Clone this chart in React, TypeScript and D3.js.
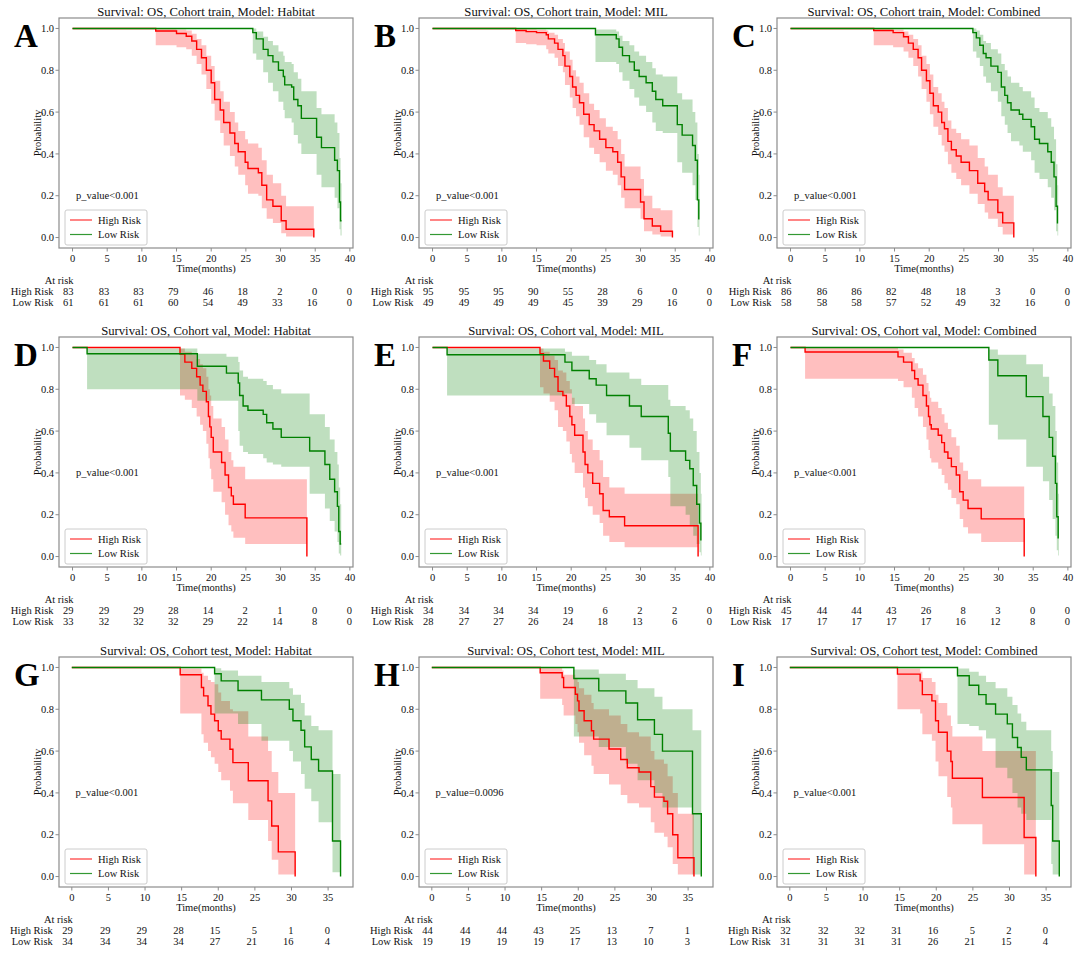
import React from "react";
import * as d3 from "d3";

// [time, survival, ci lower, ci upper]; each row holds until the next one
type Step = [number, number, number, number];

const timeTicksLong = [0, 5, 10, 15, 20, 25, 30, 35, 40];
const timeTicksShort = [0, 5, 10, 15, 20, 25, 30, 35];
const probTicks = [0, 0.2, 0.4, 0.6, 0.8, 1.0];

// ---------- train ----------
const trainHabitatHigh: Step[] = [
  [0, 1, 1, 1], [12.0, 0.988, 0.92, 1.0], [15.0, 0.976, 0.91, 0.995], [16.4, 0.963, 0.9, 0.99],
  [17.2, 0.94, 0.87, 0.975], [17.9, 0.9, 0.83, 0.95], [18.6, 0.86, 0.78, 0.92], [19.3, 0.8, 0.71, 0.87],
  [20.0, 0.74, 0.64, 0.82], [20.5, 0.66, 0.56, 0.75], [21.3, 0.61, 0.5, 0.7], [21.8, 0.55, 0.44, 0.65],
  [22.7, 0.5, 0.39, 0.6], [23.4, 0.45, 0.34, 0.55], [23.9, 0.41, 0.3, 0.51], [24.9, 0.36, 0.25, 0.47],
  [25.3, 0.33, 0.21, 0.45], [26.8, 0.31, 0.2, 0.43], [27.3, 0.25, 0.14, 0.37], [28.0, 0.18, 0.09, 0.3],
  [28.9, 0.15, 0.07, 0.26], [30.1, 0.08, 0.02, 0.2], [30.8, 0.04, 0.005, 0.15], [34.8, 0, 0, 0],
];
const trainHabitatLow: Step[] = [
  [0, 1, 1, 1], [26.0, 0.98, 0.88, 1.0], [26.5, 0.95, 0.85, 0.985], [27.5, 0.9, 0.79, 0.96],
  [28.2, 0.87, 0.74, 0.94], [28.9, 0.84, 0.7, 0.92], [29.7, 0.8, 0.65, 0.89], [30.4, 0.77, 0.61, 0.87],
  [30.6, 0.73, 0.57, 0.84], [31.6, 0.72, 0.55, 0.83], [31.9, 0.66, 0.49, 0.79], [32.5, 0.63, 0.45, 0.76],
  [33.0, 0.57, 0.4, 0.7], [35.2, 0.48, 0.3, 0.62], [35.9, 0.43, 0.24, 0.59], [37.8, 0.37, 0.19, 0.55],
  [38.2, 0.32, 0.14, 0.5], [38.5, 0.17, 0.04, 0.38], [38.65, 0.08, 0.01, 0.26], [38.8, 0.08, 0.01, 0.26],
];
const trainMilHigh: Step[] = [
  [0, 1, 1, 1], [12.0, 0.99, 0.93, 1.0], [13.5, 0.985, 0.925, 0.998], [15.0, 0.98, 0.92, 0.995],
  [16.4, 0.97, 0.9, 0.99], [16.7, 0.95, 0.88, 0.98], [17.6, 0.93, 0.86, 0.97], [18.1, 0.9, 0.82, 0.95],
  [18.8, 0.87, 0.79, 0.93], [19.1, 0.82, 0.73, 0.89], [19.8, 0.77, 0.67, 0.85], [20.2, 0.72, 0.62, 0.8],
  [20.7, 0.68, 0.58, 0.77], [21.2, 0.645, 0.54, 0.74], [21.8, 0.59, 0.48, 0.69], [22.6, 0.54, 0.43, 0.64],
  [23.3, 0.51, 0.4, 0.61], [24.1, 0.47, 0.36, 0.57], [25.0, 0.43, 0.32, 0.53], [26.0, 0.41, 0.3, 0.51],
  [26.7, 0.36, 0.25, 0.47], [27.2, 0.29, 0.19, 0.4], [27.7, 0.23, 0.14, 0.34], [30.0, 0.17, 0.09, 0.28],
  [30.5, 0.09, 0.03, 0.2], [31.7, 0.055, 0.015, 0.14], [32.9, 0.03, 0.005, 0.13], [34.6, 0, 0, 0],
];
const trainMilLow: Step[] = [
  [0, 1, 1, 1], [23.5, 0.97, 0.84, 0.995], [26.5, 0.95, 0.83, 0.985], [26.9, 0.91, 0.79, 0.965],
  [27.4, 0.87, 0.75, 0.94], [28.4, 0.84, 0.71, 0.92], [29.1, 0.8, 0.67, 0.89], [29.8, 0.77, 0.63, 0.87],
  [30.8, 0.74, 0.6, 0.84], [31.7, 0.7, 0.55, 0.81], [32.2, 0.66, 0.51, 0.78], [33.2, 0.63, 0.5, 0.77],
  [35.3, 0.54, 0.36, 0.69], [36.0, 0.49, 0.31, 0.66], [37.5, 0.44, 0.25, 0.6], [37.9, 0.37, 0.18, 0.55],
  [38.2, 0.18, 0.05, 0.4], [38.4, 0.09, 0.01, 0.3], [38.5, 0.09, 0.01, 0.3],
];
const trainCombinedHigh: Step[] = [
  [0, 1, 1, 1], [12.0, 0.99, 0.92, 1.0], [14.8, 0.98, 0.91, 0.995], [16.3, 0.96, 0.89, 0.985],
  [17.0, 0.93, 0.86, 0.97], [17.7, 0.9, 0.82, 0.95], [18.4, 0.86, 0.77, 0.92], [18.9, 0.8, 0.71, 0.87],
  [19.6, 0.75, 0.65, 0.83], [20.1, 0.69, 0.59, 0.78], [20.6, 0.63, 0.53, 0.72], [21.3, 0.6, 0.49, 0.69],
  [21.8, 0.55, 0.44, 0.65], [22.2, 0.52, 0.41, 0.62], [22.7, 0.46, 0.35, 0.56], [23.2, 0.42, 0.31, 0.52],
  [23.9, 0.39, 0.28, 0.5], [24.6, 0.36, 0.25, 0.47], [25.8, 0.32, 0.21, 0.44], [27.0, 0.26, 0.16, 0.38],
  [28.0, 0.22, 0.12, 0.34], [28.5, 0.18, 0.09, 0.3], [29.9, 0.12, 0.05, 0.24], [30.6, 0.07, 0.015, 0.2],
  [32.2, 0, 0, 0],
];
const trainCombinedLow: Step[] = [
  [0, 1, 1, 1], [26.3, 0.98, 0.89, 1.0], [26.8, 0.955, 0.86, 0.99], [27.3, 0.92, 0.82, 0.97],
  [27.8, 0.88, 0.77, 0.94], [28.2, 0.86, 0.74, 0.93], [28.9, 0.82, 0.7, 0.9], [29.9, 0.79, 0.65, 0.88],
  [30.4, 0.72, 0.58, 0.83], [30.9, 0.68, 0.54, 0.8], [31.3, 0.645, 0.5, 0.77], [31.8, 0.61, 0.46, 0.74],
  [33.0, 0.59, 0.44, 0.72], [33.5, 0.565, 0.41, 0.7], [34.7, 0.53, 0.37, 0.67], [35.2, 0.47, 0.31, 0.62],
  [35.9, 0.45, 0.28, 0.6], [37.1, 0.41, 0.24, 0.57], [37.6, 0.36, 0.19, 0.53], [38.0, 0.29, 0.13, 0.47],
  [38.3, 0.15, 0.03, 0.35], [38.5, 0.07, 0.01, 0.25], [38.6, 0.07, 0.01, 0.25],
];

// ---------- val ----------
const valHabitatHigh: Step[] = [
  [0, 1, 1, 1], [15.5, 0.968, 0.77, 0.995], [16.2, 0.93, 0.75, 0.98], [17.2, 0.9, 0.71, 0.965],
  [17.9, 0.86, 0.67, 0.945], [18.4, 0.82, 0.63, 0.92], [18.8, 0.79, 0.6, 0.9], [19.3, 0.74, 0.54, 0.86],
  [19.6, 0.67, 0.47, 0.8], [19.8, 0.62, 0.42, 0.77], [20.0, 0.57, 0.37, 0.72], [20.3, 0.5, 0.31, 0.66],
  [21.5, 0.45, 0.26, 0.62], [22.0, 0.39, 0.2, 0.56], [22.5, 0.33, 0.15, 0.5], [22.9, 0.29, 0.12, 0.46],
  [23.2, 0.25, 0.09, 0.43], [24.9, 0.185, 0.06, 0.37], [33.8, 0, 0, 0],
];
const valHabitatLow: Step[] = [
  [0, 1, 1, 1], [2.1, 0.97, 0.8, 0.995], [18.0, 0.91, 0.745, 0.97], [22.2, 0.877, 0.745, 0.955],
  [23.9, 0.83, 0.6, 0.93], [24.1, 0.77, 0.53, 0.89], [24.6, 0.72, 0.5, 0.86], [25.3, 0.7, 0.49, 0.85],
  [27.5, 0.68, 0.47, 0.84], [28.0, 0.64, 0.45, 0.82], [28.9, 0.61, 0.44, 0.8], [30.1, 0.57, 0.43, 0.78],
  [34.2, 0.505, 0.3, 0.68], [36.4, 0.44, 0.23, 0.62], [37.1, 0.37, 0.17, 0.56], [37.8, 0.31, 0.12, 0.5],
  [38.2, 0.24, 0.07, 0.44], [38.4, 0.12, 0.015, 0.33], [38.6, 0.06, 0.005, 0.25], [38.75, 0.06, 0.005, 0.25],
];
const valMilHigh: Step[] = [
  [0, 1, 1, 1], [15.5, 0.97, 0.81, 0.995], [16.0, 0.935, 0.78, 0.98], [16.9, 0.9, 0.74, 0.96],
  [17.6, 0.86, 0.7, 0.94], [18.1, 0.79, 0.62, 0.89], [18.8, 0.77, 0.6, 0.88], [19.3, 0.72, 0.55, 0.84],
  [19.8, 0.67, 0.49, 0.8], [20.1, 0.63, 0.45, 0.76], [20.5, 0.58, 0.4, 0.72], [21.7, 0.5, 0.33, 0.66],
  [22.0, 0.44, 0.28, 0.6], [22.4, 0.4, 0.24, 0.56], [23.1, 0.35, 0.2, 0.51], [24.1, 0.3, 0.16, 0.46],
  [24.6, 0.22, 0.1, 0.38], [25.5, 0.19, 0.07, 0.33], [27.7, 0.147, 0.045, 0.3], [38.3, 0, 0, 0],
];
const valMilLow: Step[] = [
  [0, 1, 1, 1], [2.1, 0.965, 0.77, 0.995], [19.1, 0.93, 0.78, 0.98], [20.1, 0.89, 0.73, 0.96],
  [22.6, 0.85, 0.68, 0.94], [23.6, 0.82, 0.64, 0.92], [25.1, 0.77, 0.58, 0.88], [28.4, 0.72, 0.52, 0.85],
  [30.1, 0.67, 0.46, 0.82], [34.0, 0.59, 0.38, 0.75], [34.3, 0.505, 0.24, 0.72], [36.5, 0.46, 0.2, 0.7],
  [37.1, 0.42, 0.15, 0.66], [37.6, 0.34, 0.1, 0.6], [38.1, 0.25, 0.06, 0.5], [38.5, 0.16, 0.02, 0.4],
  [38.7, 0.08, 0.005, 0.3], [38.8, 0.08, 0.005, 0.3],
];
const valCombinedHigh: Step[] = [
  [0, 1, 1, 1], [2.1, 0.978, 0.85, 0.997], [15.5, 0.955, 0.84, 0.99], [16.3, 0.93, 0.81, 0.975],
  [17.5, 0.89, 0.76, 0.95], [17.9, 0.85, 0.71, 0.925], [18.4, 0.82, 0.67, 0.9], [19.1, 0.77, 0.62, 0.87],
  [19.6, 0.72, 0.56, 0.83], [19.9, 0.67, 0.51, 0.79], [20.1, 0.63, 0.47, 0.76], [20.3, 0.61, 0.45, 0.74],
  [21.3, 0.58, 0.42, 0.71], [21.8, 0.545, 0.39, 0.68], [22.2, 0.5, 0.35, 0.64], [22.7, 0.47, 0.32, 0.61],
  [23.2, 0.43, 0.28, 0.57], [23.9, 0.39, 0.25, 0.53], [24.4, 0.31, 0.18, 0.45], [24.9, 0.27, 0.14, 0.41],
  [25.6, 0.23, 0.11, 0.37], [27.5, 0.18, 0.07, 0.335], [33.7, 0, 0, 0],
];
const valCombinedLow: Step[] = [
  [0, 1, 1, 1], [28.6, 0.94, 0.63, 0.99], [29.9, 0.865, 0.56, 0.965], [34.0, 0.765, 0.43, 0.92],
  [36.4, 0.67, 0.36, 0.86], [37.3, 0.57, 0.27, 0.78], [37.8, 0.48, 0.18, 0.72], [38.2, 0.35, 0.1, 0.6],
  [38.4, 0.19, 0.03, 0.45], [38.6, 0.09, 0.005, 0.3], [38.7, 0.09, 0.005, 0.3],
];

// ---------- test ----------
const testHabitatHigh: Step[] = [
  [0, 1, 1, 1], [14.8, 0.965, 0.78, 0.995], [17.7, 0.904, 0.68, 0.975], [18.0, 0.864, 0.64, 0.96],
  [18.6, 0.817, 0.6, 0.94], [19.0, 0.777, 0.57, 0.93], [19.5, 0.745, 0.54, 0.92], [20.0, 0.697, 0.5, 0.88],
  [20.4, 0.657, 0.46, 0.84], [21.6, 0.609, 0.41, 0.8], [22.0, 0.545, 0.35, 0.79], [24.1, 0.458, 0.27, 0.67],
  [26.8, 0.362, 0.17, 0.6], [27.3, 0.242, 0.08, 0.5], [28.2, 0.118, 0.01, 0.4], [30.5, 0, 0, 0],
];
const testHabitatLow: Step[] = [
  [0, 1, 1, 1], [19.5, 0.97, 0.78, 0.996], [20.4, 0.936, 0.78, 0.985], [22.7, 0.89, 0.73, 0.96],
  [25.9, 0.845, 0.65, 0.93], [29.7, 0.8, 0.6, 0.9], [30.2, 0.745, 0.55, 0.87], [31.3, 0.7, 0.49, 0.83],
  [31.8, 0.62, 0.42, 0.77], [32.7, 0.56, 0.36, 0.72], [33.7, 0.505, 0.26, 0.7], [35.6, 0.17, 0.02, 0.49],
  [36.7, 0, 0, 0],
];
const testMilHigh: Step[] = [
  [0, 1, 1, 1], [14.8, 0.975, 0.85, 0.997], [17.8, 0.952, 0.82, 0.985], [18.0, 0.904, 0.77, 0.965],
  [19.6, 0.872, 0.73, 0.95], [19.9, 0.84, 0.69, 0.93], [20.1, 0.793, 0.64, 0.9], [20.8, 0.745, 0.58, 0.87],
  [21.8, 0.697, 0.53, 0.83], [22.1, 0.657, 0.49, 0.8], [24.2, 0.61, 0.44, 0.77], [25.8, 0.56, 0.39, 0.73],
  [26.7, 0.52, 0.35, 0.69], [28.3, 0.5, 0.33, 0.67], [29.9, 0.43, 0.26, 0.6], [30.4, 0.38, 0.21, 0.56],
  [31.7, 0.36, 0.19, 0.54], [32.2, 0.3, 0.14, 0.48], [32.9, 0.2, 0.06, 0.4], [33.6, 0.09, 0.01, 0.3],
  [35.8, 0, 0, 0],
];
const testMilLow: Step[] = [
  [0, 1, 1, 1], [19.4, 0.947, 0.67, 0.99], [22.8, 0.888, 0.62, 0.97], [26.5, 0.83, 0.54, 0.94],
  [28.1, 0.75, 0.46, 0.9], [30.4, 0.68, 0.4, 0.86], [31.5, 0.6, 0.33, 0.8], [35.6, 0.3, 0.01, 0.7],
  [36.8, 0, 0, 0],
];
const testCombinedHigh: Step[] = [
  [0, 1, 1, 1], [14.7, 0.968, 0.8, 0.995], [17.8, 0.936, 0.78, 0.98], [18.1, 0.87, 0.68, 0.95],
  [19.4, 0.84, 0.65, 0.93], [19.9, 0.745, 0.55, 0.87], [20.3, 0.69, 0.48, 0.83], [21.5, 0.6, 0.38, 0.77],
  [22.0, 0.55, 0.33, 0.72], [22.2, 0.47, 0.25, 0.67], [26.3, 0.378, 0.155, 0.6], [32.0, 0.187, 0.01, 0.6],
  [33.6, 0, 0, 0],
];
const testCombinedLow: Step[] = [
  [0, 1, 1, 1], [22.9, 0.96, 0.73, 0.995], [24.5, 0.915, 0.72, 0.98], [25.8, 0.87, 0.7, 0.96],
  [26.8, 0.825, 0.66, 0.93], [28.1, 0.777, 0.52, 0.9], [29.7, 0.73, 0.47, 0.86], [30.4, 0.665, 0.4, 0.82],
  [31.1, 0.617, 0.33, 0.78], [31.6, 0.57, 0.3, 0.74], [32.3, 0.51, 0.27, 0.7], [35.7, 0.34, 0.06, 0.6],
  [35.9, 0.17, 0.01, 0.5], [36.8, 0, 0, 0],
];

// ---------- numbers at risk ----------
const riskTrainHabitatHigh = [83, 83, 83, 79, 46, 18, 2, 0, 0];
const riskTrainHabitatLow = [61, 61, 61, 60, 54, 49, 33, 16, 0];
const riskTrainMilHigh = [95, 95, 95, 90, 55, 28, 6, 0, 0];
const riskTrainMilLow = [49, 49, 49, 49, 45, 39, 29, 16, 0];
const riskTrainCombinedHigh = [86, 86, 86, 82, 48, 18, 3, 0, 0];
const riskTrainCombinedLow = [58, 58, 58, 57, 52, 49, 32, 16, 0];
const riskValHabitatHigh = [29, 29, 29, 28, 14, 2, 1, 0, 0];
const riskValHabitatLow = [33, 32, 32, 32, 29, 22, 14, 8, 0];
const riskValMilHigh = [34, 34, 34, 34, 19, 6, 2, 2, 0];
const riskValMilLow = [28, 27, 27, 26, 24, 18, 13, 6, 0];
const riskValCombinedHigh = [45, 44, 44, 43, 26, 8, 3, 0, 0];
const riskValCombinedLow = [17, 17, 17, 17, 17, 16, 12, 8, 0];
const riskTestHabitatHigh = [29, 29, 29, 28, 15, 5, 1, 0];
const riskTestHabitatLow = [34, 34, 34, 34, 27, 21, 16, 4];
const riskTestMilHigh = [44, 44, 44, 43, 25, 13, 7, 1];
const riskTestMilLow = [19, 19, 19, 19, 17, 13, 10, 3];
const riskTestCombinedHigh = [32, 32, 32, 31, 16, 5, 2, 0];
const riskTestCombinedLow = [31, 31, 31, 31, 26, 21, 15, 4];

const cohorts = ["train", "val", "test"];
const models = ["Habitat", "MIL", "Combined"];
const letters = ["A", "B", "C", "D", "E", "F", "G", "H", "I"];
const pValues = [
  "p_value<0.001", "p_value<0.001", "p_value<0.001",
  "p_value<0.001", "p_value<0.001", "p_value<0.001",
  "p_value<0.001", "p_value=0.0096", "p_value<0.001",
];
const highCurves = [
  trainHabitatHigh, trainMilHigh, trainCombinedHigh,
  valHabitatHigh, valMilHigh, valCombinedHigh,
  testHabitatHigh, testMilHigh, testCombinedHigh,
];
const lowCurves = [
  trainHabitatLow, trainMilLow, trainCombinedLow,
  valHabitatLow, valMilLow, valCombinedLow,
  testHabitatLow, testMilLow, testCombinedLow,
];
const highRisk = [
  riskTrainHabitatHigh, riskTrainMilHigh, riskTrainCombinedHigh,
  riskValHabitatHigh, riskValMilHigh, riskValCombinedHigh,
  riskTestHabitatHigh, riskTestMilHigh, riskTestCombinedHigh,
];
const lowRisk = [
  riskTrainHabitatLow, riskTrainMilLow, riskTrainCombinedLow,
  riskValHabitatLow, riskValMilLow, riskValCombinedLow,
  riskTestHabitatLow, riskTestMilLow, riskTestCombinedLow,
];

// layout
const W = 1080;
const H = 954;
const colLeft = [59, 419, 777];
const rowTop = [18, 337, 657];
const boxW = 294;
const boxH = 230;
const FONT = "'Liberation Serif', 'Times New Roman', serif";
const HIGH = "#ff0000";
const LOW = "#008000";
const INK = "#111";
const SPINE = "#8c8c8c";

interface PanelProps {
  idx: number;
}

const Panel: React.FC<PanelProps> = ({ idx }) => {
  const row = Math.floor(idx / 3);
  const col = idx % 3;
  const left = colLeft[col];
  const top = rowTop[row];
  const ticks = row === 2 ? timeTicksShort : timeTicksLong;
  const xDomain = row === 2 ? [-1.75, 38.4] : [-1.95, 40.45];

  const x = d3.scaleLinear().domain(xDomain).range([0, boxW]);
  const y = d3.scaleLinear().domain([-0.05, 1.05]).range([boxH, 0]);

  const band = d3
    .area<Step>()
    .x((d) => x(d[0]))
    .y0((d) => y(d[2]))
    .y1((d) => y(d[3]))
    .curve(d3.curveStepAfter);
  const line = d3
    .line<Step>()
    .x((d) => x(d[0]))
    .y((d) => y(d[1]))
    .curve(d3.curveStepAfter);

  const title = `Survival: OS, Cohort ${cohorts[row]}, Model: ${models[col]}`;
  const hi = highRisk[idx];
  const lo = lowRisk[idx];
  const legX = 6;
  const legY = 192;

  return (
    <g transform={`translate(${left},${top})`} fontFamily={FONT}>
      <text x={-45} y={29} fontSize={33} fontWeight="bold" fill="#000">
        {letters[idx]}
      </text>
      <text x={boxW / 2} y={-2} fontSize={12.7} textAnchor="middle" fill={INK}>
        {title}
      </text>

      <path d={band(highCurves[idx]) ?? ""} fill={HIGH} fillOpacity={0.25} />
      <path d={band(lowCurves[idx]) ?? ""} fill={LOW} fillOpacity={0.25} />
      <path d={line(highCurves[idx]) ?? ""} fill="none" stroke={HIGH} strokeWidth={1.4} />
      <path d={line(lowCurves[idx]) ?? ""} fill="none" stroke={LOW} strokeWidth={1.4} />

      <rect x={0} y={0} width={boxW} height={boxH} fill="none" stroke={SPINE} strokeWidth={1.2} />

      {probTicks.map((p) => (
        <g key={`y${p}`}>
          <line x1={-3.5} x2={0} y1={y(p)} y2={y(p)} stroke={SPINE} />
          <text x={-5} y={y(p) + 3.6} fontSize={10.5} textAnchor="end" fill={INK}>
            {p.toFixed(1)}
          </text>
        </g>
      ))}
      {ticks.map((t) => (
        <g key={`x${t}`}>
          <line x1={x(t)} x2={x(t)} y1={boxH} y2={boxH + 3.5} stroke={SPINE} />
          <text x={x(t)} y={boxH + 14} fontSize={10.5} textAnchor="middle" fill={INK}>
            {t}
          </text>
        </g>
      ))}
      <text x={boxW / 2} y={boxH + 24} fontSize={10.5} textAnchor="middle" fill={INK}>
        Time(months)
      </text>
      <text
        transform={`translate(-18,${boxH / 2}) rotate(-90)`}
        fontSize={10.5}
        textAnchor="middle"
        fill={INK}
      >
        Probability
      </text>

      <text x={x(0.5)} y={y(row === 0 ? 0.2 : 0.4) + 3.5} fontSize={10.5} fill={INK}>
        {pValues[idx]}
      </text>

      <g transform={`translate(${legX},${legY})`}>
        <rect x={0} y={0} width={82} height={35} rx={2} fill="#fff" fillOpacity={0.8} stroke="#ccc" />
        <line x1={5} x2={27} y1={10} y2={10} stroke={HIGH} strokeOpacity={0.8} strokeWidth={1.2} />
        <text x={33} y={13.5} fontSize={10.5} fill={INK}>High Risk</text>
        <line x1={5} x2={27} y1={24.5} y2={24.5} stroke={LOW} strokeOpacity={0.8} strokeWidth={1.2} />
        <text x={33} y={28} fontSize={10.5} fill={INK}>Low Risk</text>
      </g>

      <g fontSize={10.5} fill={INK}>
        <text x={x(0) + 1} y={boxH + 36} textAnchor="end">At risk</text>
        <text x={x(0) - 19} y={boxH + 47} textAnchor="end">High Risk</text>
        <text x={x(0) - 19} y={boxH + 58} textAnchor="end">Low Risk</text>
        {ticks.map((t, i) => (
          <g key={`r${t}`}>
            <text x={x(t) + (i === 0 ? 1 : 2)} y={boxH + 47} textAnchor="end">{hi[i]}</text>
            <text x={x(t) + (i === 0 ? 1 : 2)} y={boxH + 58} textAnchor="end">{lo[i]}</text>
          </g>
        ))}
      </g>
    </g>
  );
};

const App: React.FC = () => {
  return (
    <div style={{ position: "absolute", left: 0, top: 0, width: W, height: H, background: "#fff" }}>
      <svg width={W} height={H} viewBox={`0 0 ${W} ${H}`} style={{ display: "block" }}>
        <rect width={W} height={H} fill="#fff" />
        {letters.map((_, i) => (
          <Panel key={i} idx={i} />
        ))}
      </svg>
    </div>
  );
};

export default App;
